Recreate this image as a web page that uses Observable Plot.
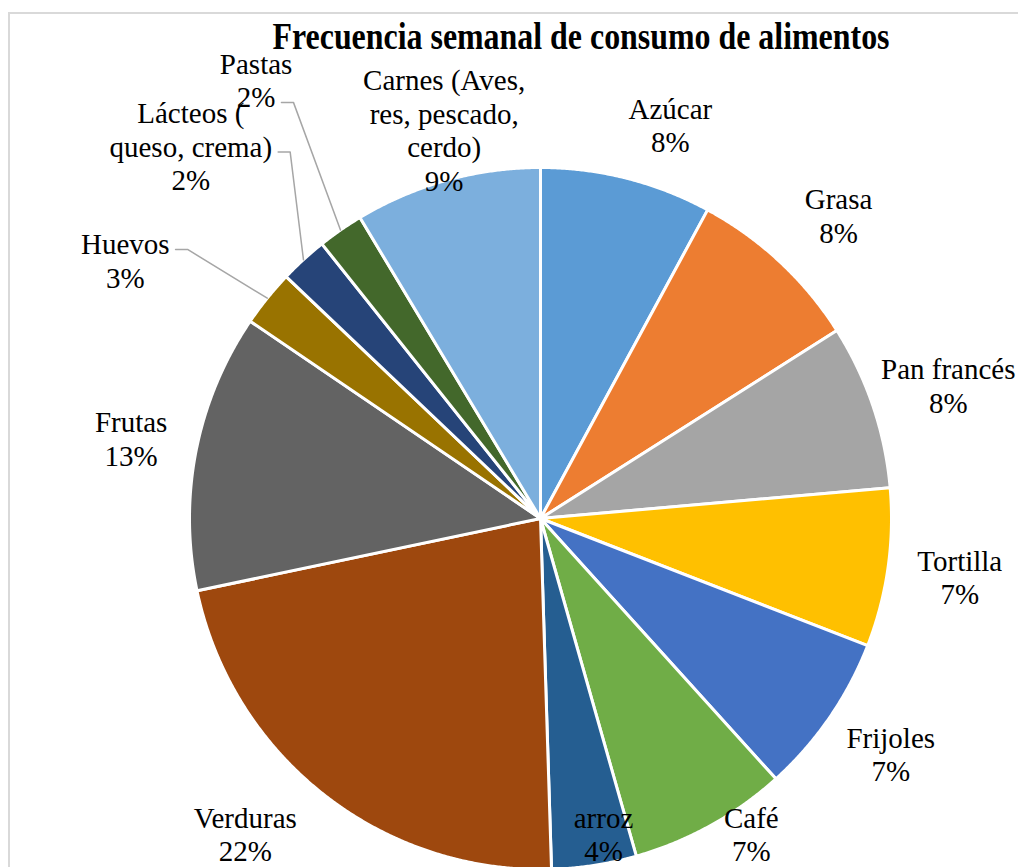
<!DOCTYPE html>
<html>
<head>
<meta charset="utf-8">
<script src="https://cdn.jsdelivr.net/npm/d3@7"></script>
<script src="https://cdn.jsdelivr.net/npm/@observablehq/plot@0.6"></script>
<style>
  html, body { margin: 0; padding: 0; overflow: hidden; background: #fff; }
  #chart { position: relative; width: 1018px; height: 867px; overflow: hidden; background: #fff; }
  #chart svg { position: absolute; left: 0; top: 0; font-family: "Liberation Serif", "Times New Roman", serif; }
  #chart svg text { font-family: "Liberation Serif", "Times New Roman", serif !important; }
  #frame { position: absolute; left: 8px; top: 12px; right: -10px; bottom: -10px;
           border-left: 2px solid #d9d9d9; border-top: 2px solid #d9d9d9; pointer-events: none; }
  #title { position: absolute; left: 581px; top: 17px; white-space: nowrap;
           font: bold 38px "Liberation Serif", "Times New Roman", serif; line-height: 38px;
           color: #000; transform-origin: 50% 50%; }
</style>
</head>
<body>
<div id="chart"><div id="title"></div></div>
<script>
// ---------------- data ----------------
const title = "Frecuencia semanal de consumo de alimentos";
const categories = ["Azúcar", "Grasa", "Pan francés", "Tortilla", "Frijoles", "Café", "arroz",
  "Verduras", "Frutas", "Huevos", "Lácteos ( queso, crema)", "Pastas", "Carnes (Aves, res, pescado, cerdo)"];
const labelLines = ["Azúcar", "Grasa", "Pan francés", "Tortilla", "Frijoles", "Café", "arroz",
  "Verduras", "Frutas", "Huevos", "Lácteos (\nqueso, crema)", "Pastas", "Carnes (Aves,\nres, pescado,\ncerdo)"];
const percents = [7.9, 8.1, 7.6, 7.3, 7.4, 7.3, 3.9, 22.2, 12.8, 2.6, 2.2, 2.1, 8.6];
const colors = ["#5B9BD5", "#ED7D31", "#A5A5A5", "#FFC000", "#4472C4", "#70AD47", "#255E91",
  "#9E480E", "#636363", "#997300", "#264478", "#43682B", "#7CAFDD"];

// ---------------- layout ----------------
const W = 1018, H = 867, CX = 540, CY = 518, R = 351, GAP = 30;
const FS = 29, LH = 33.6;
const FONT = '"Liberation Serif", "Times New Roman", serif';
const leaderLayout = {
  "Huevos": {r: 489, dA: -7, line: 0},
  "Lácteos ( queso, crema)": {r: 511, dA: -0.7, line: 1},
  "Pastas": {r: 523, dA: 1.8, line: 1}
};
const shift = {
  "Azúcar": [26, 8], "Grasa": [15, 0], "Café": [13, 0], "Verduras": [-28, 0],
  "Carnes (Aves, res, pescado, cerdo)": [27, 0]
};

const total = d3.sum(percents);
let acc = 0;
const slices = categories.map((c, i) => {
  const a0 = acc / total * 2 * Math.PI;
  acc += percents[i];
  const a1 = acc / total * 2 * Math.PI;
  return {c, i, a0, a1, mid: (a0 + a1) / 2};
});

// slice outlines on a unit circle (derived from the values)
const slicePts = [];
for (const s of slices) {
  slicePts.push({c: s.c, x: 0, y: 0});
  const n = Math.max(2, Math.ceil((s.a1 - s.a0) / (Math.PI / 720)));
  for (let k = 0; k <= n; k++) {
    const a = s.a0 + (s.a1 - s.a0) * k / n;
    slicePts.push({c: s.c, x: Math.sin(a), y: Math.cos(a)});
  }
}

const toX = px => (px - CX) / R, toY = py => (CY - py) / R;
const ctx = document.createElement("canvas").getContext("2d");
ctx.font = `${FS}px ${FONT}`;

const labels = [];
const leaders = [];
for (const s of slices) {
  const text = labelLines[s.i] + "\n" + Math.round(percents[s.i] / total * 100) + "%";
  const lines = text.split("\n");
  const w = d3.max(lines, l => ctx.measureText(l).width);
  const h = lines.length * LH;
  let px, py;
  const L = leaderLayout[s.c];
  const sa = Math.sin(s.mid), ca = Math.cos(s.mid);
  if (L) {
    const a = s.mid + L.dA * Math.PI / 180;
    px = CX + L.r * Math.sin(a);
    py = CY - L.r * Math.cos(a);
    const lw = ctx.measureText(lines[L.line]).width;
    const ax = px + lw / 2 + 6;
    const ay = py - h / 2 + (L.line + 0.5) * LH + 6;
    leaders.push({c: s.c, x: toX(ax), y: toY(ay)});
    leaders.push({c: s.c, x: toX(ax + 12), y: toY(ay)});
    leaders.push({c: s.c, x: sa, y: ca});
  } else {
    px = CX + (R + GAP) * sa + sa * w / 2;
    py = CY - (R + GAP) * ca - ca * h / 2;
    py = Math.min(py, H - h / 2);
    py = Math.max(py, 62 + h / 2);
    px = Math.min(px, W - 3 - w / 2);
    const sh = shift[s.c];
    if (sh) { px += sh[0]; py += sh[1]; }
  }
  labels.push({c: s.c, text, x: toX(px), y: toY(py)});
}

const chart = Plot.plot({
  width: W, height: H,
  marginTop: 0, marginRight: 0, marginBottom: 0, marginLeft: 0,
  style: {background: "transparent", overflow: "hidden", fontFamily: FONT},
  x: {domain: [toX(0), toX(W)], axis: null},
  y: {domain: [toY(H), toY(0)], axis: null},
  color: {type: "ordinal", domain: categories, range: colors},
  marks: [
    Plot.line(slicePts, {x: "x", y: "y", z: "c", fill: "c", stroke: "white",
      strokeWidth: 3, strokeLinejoin: "round", curve: "linear-closed"}),
    Plot.line(leaders, {x: "x", y: "y", z: "c", stroke: "#a6a6a6", strokeWidth: 1.5}),
    Plot.text(labels, {x: "x", y: "y", text: "text", fontSize: FS, lineHeight: LH / FS,
      fontFamily: FONT, fill: "#000", textAnchor: "middle", lineAnchor: "middle"})
  ]
});
const holder = document.getElementById("chart");
holder.insertBefore(chart, holder.firstChild);
const fr = document.createElement("div"); fr.id = "frame"; holder.appendChild(fr);

const t = document.getElementById("title");
t.textContent = title;
ctx.font = `bold 38px ${FONT}`;
const natural = ctx.measureText(title).width;
t.style.transform = `translateX(-50%) scaleX(${617 / natural})`;
</script>
</body>
</html>
